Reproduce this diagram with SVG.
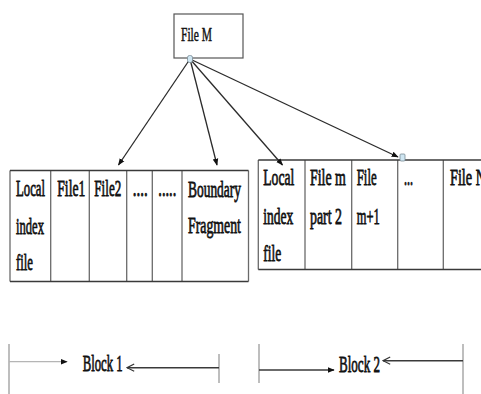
<svg xmlns="http://www.w3.org/2000/svg" width="481" height="394" viewBox="0 0 481 394">
  <style>
    .lbl { font-family: "Liberation Serif", "Times New Roman", serif; font-size: 24px; fill: #111; stroke: #111; stroke-width: 0.8; }
    .small { font-size: 19px; stroke-width: 0.5; }
    .grid { stroke: #6a6a6a; stroke-width: 1.3; fill: none; }
    .edge { stroke: #3a3a3a; stroke-width: 1.6; fill: none; }
    .conn { stroke: #2b2b2b; stroke-width: 1.3; fill: none; }
    .tick { stroke: #a8a8a8; stroke-width: 1.5; }
    .span-dark { stroke: #3a3a3a; stroke-width: 1.4; }
    .span-light { stroke: #b5b5b5; stroke-width: 1.3; }
    .port { fill: #cfe6f2; stroke: #7a8c96; stroke-width: 0.8; }
  </style>
  <defs>
    <marker id="solid" viewBox="0 0 10 10" refX="9" refY="5" markerWidth="7" markerHeight="7" markerUnits="userSpaceOnUse" orient="auto">
      <path d="M0,1 L10,5 L0,9 Z" fill="#111"/>
    </marker>
    <marker id="open" viewBox="0 0 10 10" refX="9" refY="5" markerWidth="9" markerHeight="9" markerUnits="userSpaceOnUse" orient="auto">
      <path d="M1,1 L9,5 L1,9" fill="none" stroke="#333" stroke-width="1.3"/>
    </marker>
  </defs>

  <rect width="481" height="394" fill="#ffffff"/>

  <!-- source file -->
  <g id="file-m">
    <rect x="174" y="14" width="69" height="44" fill="#fff" stroke="#555" stroke-width="1.2"/>
    <text class="lbl small" transform="translate(181,41) scale(0.605,1)">File M</text>
  </g>

  <!-- block 1 layout (condensed serif labels) -->
  <g id="block-1-table">
    <line class="grid" x1="10" y1="170.5" x2="10" y2="281.5"/>
    <line class="grid" x1="50.7" y1="170.5" x2="50.7" y2="281.5"/>
    <line class="grid" x1="89.3" y1="170.5" x2="89.3" y2="281.5"/>
    <line class="grid" x1="126.7" y1="170.5" x2="126.7" y2="281.5"/>
    <line class="grid" x1="152.3" y1="170.5" x2="152.3" y2="281.5"/>
    <line class="grid" x1="182" y1="170.5" x2="182" y2="281.5"/>
    <line class="grid" x1="248.5" y1="170.5" x2="248.5" y2="281.5"/>
    <line class="edge" x1="10" y1="170.5" x2="248.5" y2="170.5"/>
    <line class="edge" x1="10" y1="281.5" x2="248.5" y2="281.5"/>
    <text class="lbl" transform="translate(16,196) scale(0.531,1)">Local</text>
    <text class="lbl" transform="translate(16,234) scale(0.525,1)">index</text>
    <text class="lbl" transform="translate(16,270) scale(0.531,1)">file</text>
    <text class="lbl" transform="translate(57.3,196) scale(0.568,1)">File1</text>
    <text class="lbl" transform="translate(94.3,196) scale(0.547,1)">File2</text>
    <text class="lbl" transform="translate(132.7,196) scale(0.625,1)">....</text>
    <text class="lbl" transform="translate(158.3,196) scale(0.6,1)">.....</text>
    <text class="lbl" transform="translate(188,197) scale(0.56,1)">Boundary</text>
    <text class="lbl" transform="translate(188,233) scale(0.576,1)">Fragment</text>
  </g>

  <!-- block 2 layout -->
  <g id="block-2-table">
    <line class="grid" x1="258.3" y1="160" x2="258.3" y2="269.5"/>
    <line class="grid" x1="305" y1="160" x2="305" y2="269.5"/>
    <line class="grid" x1="351.7" y1="160" x2="351.7" y2="269.5"/>
    <line class="grid" x1="397.7" y1="160" x2="397.7" y2="269.5"/>
    <line class="grid" x1="443.3" y1="160" x2="443.3" y2="269.5"/>
    <line class="edge" x1="258.3" y1="160" x2="481" y2="160"/>
    <line class="edge" x1="258.3" y1="269.5" x2="481" y2="269.5"/>
    <text class="lbl" transform="translate(263.3,185) scale(0.568,1)">Local</text>
    <text class="lbl" transform="translate(263.3,224) scale(0.563,1)">index</text>
    <text class="lbl" transform="translate(263.3,261) scale(0.5625,1)">file</text>
    <text class="lbl" transform="translate(310,185) scale(0.58,1)">File m</text>
    <text class="lbl" transform="translate(310,224) scale(0.579,1)">part 2</text>
    <text class="lbl" transform="translate(356.7,185) scale(0.536,1)">File</text>
    <text class="lbl" transform="translate(356.7,224) scale(0.52,1)">m+1</text>
    <text class="lbl" transform="translate(404,185) scale(0.5,1)">...</text>
    <text class="lbl" transform="translate(450,185) scale(0.593,1)">File N</text>
  </g>

  <!-- links from File M to its pieces -->
  <g id="connectors">
    <line class="conn" x1="190" y1="59" x2="118.5" y2="165" marker-end="url(#solid)"/>
    <line class="conn" x1="190" y1="59" x2="217" y2="165" marker-end="url(#solid)"/>
    <line class="conn" x1="190" y1="59" x2="282.5" y2="165" marker-end="url(#solid)"/>
    <line class="conn" x1="190" y1="59" x2="398" y2="157" stroke-width="2" marker-end="url(#solid)"/>
    <rect class="port" x="187.5" y="55.5" width="5" height="7" rx="2"/>
    <rect class="port" x="400" y="154" width="5" height="7" rx="1"/>
  </g>

  <!-- block 1 extent -->
  <g id="block-1-span">
    <line class="tick" x1="9" y1="344" x2="9" y2="394"/>
    <line class="tick" x1="219" y1="354" x2="219" y2="383"/>
    <line class="span-light" x1="9" y1="361.7" x2="67" y2="361.7" marker-end="url(#solid)"/>
    <line class="span-dark" x1="219" y1="367.7" x2="127" y2="367.7" marker-end="url(#open)"/>
    <text class="lbl" transform="translate(82.7,371) scale(0.531,1)">Block 1</text>
  </g>

  <!-- block 2 extent -->
  <g id="block-2-span">
    <line class="tick" x1="259" y1="344" x2="259" y2="383"/>
    <line class="tick" x1="463" y1="344" x2="463" y2="394"/>
    <line class="span-dark" x1="259" y1="370" x2="334" y2="370" marker-end="url(#solid)"/>
    <line class="span-dark" x1="463" y1="360.7" x2="383" y2="360.7" marker-end="url(#open)"/>
    <text class="lbl" transform="translate(339,371.5) scale(0.544,1)">Block 2</text>
  </g>
</svg>
